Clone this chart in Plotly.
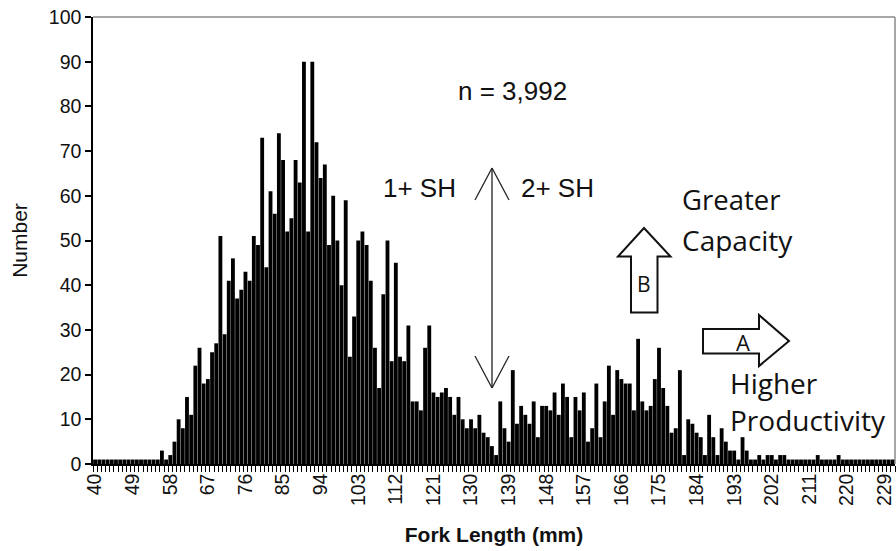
import plotly.graph_objects as go

# Fork length categories (mm) and counts
fork_length = list(range(40, 232))
counts = [
    # 40-49
    1, 1, 1, 1, 1, 1, 1, 1, 1, 1,
    # 50-59
    1, 1, 1, 1, 1, 1, 3, 1, 2, 5,
    # 60-69
    10, 8, 15, 11, 22, 26, 18, 19, 25, 27,
    # 70-79
    51, 29, 41, 46, 37, 39, 43, 41, 51, 49,
    # 80-89
    73, 44, 61, 56, 74, 68, 52, 55, 68, 63,
    # 90-99
    90, 52, 90, 72, 64, 67, 49, 60, 50, 40,
    # 100-109
    59, 24, 33, 50, 52, 49, 41, 26, 17, 38,
    # 110-119
    50, 23, 45, 24, 23, 31, 14, 14, 12, 26,
    # 120-129
    31, 16, 15, 16, 17, 15, 11, 15, 10, 8,
    # 130-139
    10, 8, 11, 7, 6, 4, 2, 14, 8, 5,
    # 140-149
    21, 9, 13, 11, 9, 14, 6, 13, 13, 12,
    # 150-159
    16, 11, 18, 15, 6, 15, 12, 16, 5, 8,
    # 160-169
    18, 6, 14, 22, 11, 21, 19, 18, 18, 12,
    # 170-179
    28, 14, 12, 13, 19, 26, 17, 13, 7, 8,
    # 180-189
    21, 2, 10, 9, 7, 6, 2, 11, 6, 2,
    # 190-199
    8, 5, 3, 3, 1, 6, 3, 1, 1, 2,
    # 200-209
    1, 2, 2, 1, 2, 2, 1, 1, 1, 1,
    # 210-219
    1, 1, 1, 2, 1, 1, 1, 1, 2, 1,
    # 220-231
    1, 1, 1, 1, 1, 1, 1, 1, 1, 1, 1, 1,
]
x_tick_labels = ["40", "49", "58", "67", "76", "85", "94", "103", "112", "121",
                 "130", "139", "148", "157", "166", "175", "184", "193", "202",
                 "211", "220", "229"]
y_tick_labels = ["0", "10", "20", "30", "40", "50", "60", "70", "80", "90", "100"]

W, H = 896, 551
L, R, T, B = 93, 1, 17, 87
PW, PH = W - L - R, H - T - B


def px(xs):
    # screen x -> paper x
    return (xs - L) / PW


def py(ys):
    # screen y -> paper y
    return (T + PH - ys) / PH


fig = go.Figure()
fig.add_trace(go.Bar(
    x=fork_length, y=counts,
    marker=dict(color="#000000", line=dict(width=0)),
    hoverinfo="x+y",
))

font_ax = "Arial, Liberation Sans, sans-serif"
font_hum = "Open Sans, Noto Sans, sans-serif"

fig.update_layout(
    width=W, height=H,
    margin=dict(l=L, r=R, t=T, b=B, autoexpand=False),
    paper_bgcolor="white", plot_bgcolor="white",
    bargap=0.08,
    showlegend=False,
    font=dict(family=font_ax, size=19, color="#111"),
    xaxis=dict(
        range=[39.5, 231.5],
        automargin=False,
        tickmode="array",
        tickvals=[int(v) for v in x_tick_labels],
        ticktext=x_tick_labels,
        tickangle=-90,
        ticks="",
        ticklabeloverflow="allow",
        showline=True, linecolor="#000", linewidth=1.5,
        showgrid=False, zeroline=False,
        minor=dict(tick0=39.5, dtick=1, ticks="outside", ticklen=6,
                   tickcolor="#000", tickwidth=1, showgrid=False),
        tickfont=dict(size=19.5, family=font_ax, color="#111"),
        title=dict(text="<b>Fork Length (mm)</b>", standoff=22,
                   font=dict(size=21, family=font_ax, color="#111")),
    ),
    yaxis=dict(
        range=[0, 100],
        automargin=False,
        tickmode="array",
        tickvals=[int(v) for v in y_tick_labels],
        ticktext=y_tick_labels,
        ticks="outside", ticklen=6, tickcolor="#000", tickwidth=1.5,
        ticklabeloverflow="allow",
        showline=True, linecolor="#000", linewidth=1.5,
        showgrid=False, zeroline=False,
        tickfont=dict(size=19.5, family=font_ax, color="#111"),
        title=dict(text="Number", standoff=15,
                   font=dict(size=21, family=font_ax, color="#111")),
    ),
)

shapes = []
# top and right gray frame
shapes.append(dict(type="line", xref="paper", yref="paper", x0=0, x1=1, y0=1, y1=1,
                   line=dict(color="#8a8a8a", width=1.5)))
shapes.append(dict(type="line", xref="paper", yref="paper", x0=1, x1=1, y0=0, y1=1,
                   line=dict(color="#8a8a8a", width=1.5)))

# double headed vertical arrow
ax_x = 492
for seg in [((ax_x, 168), (ax_x, 388)),
            ((ax_x, 168), (ax_x - 17, 200)), ((ax_x, 168), (ax_x + 17, 200)),
            ((ax_x, 388), (ax_x - 17, 356)), ((ax_x, 388), (ax_x + 17, 356))]:
    (x0, y0), (x1, y1) = seg
    shapes.append(dict(type="line", xref="paper", yref="paper",
                       x0=px(x0), y0=py(y0), x1=px(x1), y1=py(y1),
                       line=dict(color="#222", width=1.3)))


def path(points):
    s = "M " + " L ".join(f"{px(a):.5f},{py(b):.5f}" for a, b in points) + " Z"
    return s


# block arrow B (up)
ptsB = [(631, 312.5), (631, 256.5), (618, 256.5), (644, 228), (670.5, 256.5),
        (657.5, 256.5), (657.5, 312.5)]
# block arrow A (right)
ptsA = [(703, 329), (759, 329), (759, 315), (789, 341), (759, 366), (759, 353.5),
        (703, 353.5)]
for pts in (ptsB, ptsA):
    shapes.append(dict(type="path", xref="paper", yref="paper", path=path(pts),
                       fillcolor="white", line=dict(color="#111", width=2)))

fig.update_layout(shapes=shapes)


def ann(text, x, y, size, family, xanchor="center"):
    fig.add_annotation(text=text, xref="paper", yref="paper", x=px(x), y=py(y),
                       xanchor=xanchor, yanchor="middle", showarrow=False,
                       font=dict(size=size, family=family, color="#111"))


ann("n = 3,992", 512, 91, 26, font_ax)
ann("1+ SH", 419, 188, 26, font_ax)
ann("2+ SH", 557, 188, 26, font_ax)
ann("Greater", 680, 199, 27.5, font_hum, "left")
ann("Capacity", 680, 240, 28, font_hum, "left")
ann("Higher", 728, 383, 28, font_hum, "left")
ann("Productivity", 728, 420, 28, font_hum, "left")
ann("B", 644, 284, 21, font_hum)
ann("A", 743, 342, 22, font_hum)

# remove the default page margin so the 896x551 figure fills the window exactly
fig.write_html("out.html",
               config={"displayModeBar": False},
               post_script="document.body.style.margin='0px';"
                           "document.body.style.overflow='hidden';")
